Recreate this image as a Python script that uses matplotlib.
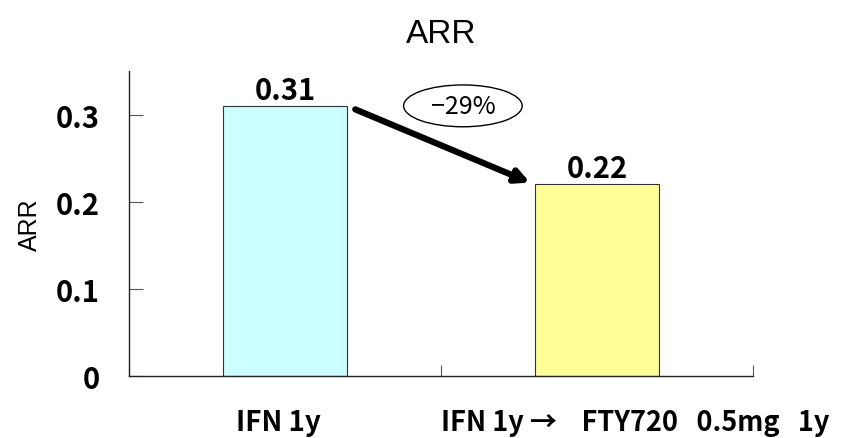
import matplotlib.pyplot as plt
from matplotlib.patches import Ellipse

plt.rcParams['font.family'] = ['Noto Sans CJK JP', 'DejaVu Sans']

categories = ['IFN 1y', 'IFN 1y →    FTY720   0.5mg   1y']
arr_values = [0.31, 0.22]
bar_colors = ['#ccffff', '#ffff99']
change_label = '−29%'

fig = plt.figure(figsize=(8.45, 4.39), dpi=100)
ax = fig.add_axes([0.1527, 0.1412, 0.7385, 0.6948])

x = [0, 1]
ax.bar(x, arr_values, width=0.4, color=bar_colors, edgecolor='#333333', linewidth=0.8)
ax.set_xlim(-0.5, 1.5)
ax.set_ylim(0, 0.35)

for xi, v in zip(x, arr_values):
    ax.text(xi, v + 0.001, f'{v:.2f}', ha='center', va='bottom',
            fontsize=21, fontweight='bold')

# bottom category labels sit well below the axis
ax.set_xticks([-0.5, 0.5, 1.5])
ax.set_xticklabels([])
ax.tick_params(axis='x', direction='in', length=8, color='#555555')
ax.text(-0.02, -0.053, categories[0], ha='center', va='center', fontsize=20,
        fontweight='bold', clip_on=False)
ax.text(1.122, -0.053, categories[1], ha='center', va='center', fontsize=19.5,
        fontweight='bold', clip_on=False)

ax.set_yticks([0, 0.1, 0.2, 0.3])
ax.set_yticklabels(['0', '0.1', '0.2', '0.3'], fontsize=21, fontweight='bold')
ax.tick_params(axis='y', direction='in', length=10, pad=21, color='#555555')

ax.spines['top'].set_visible(False)
ax.spines['right'].set_visible(False)
for s in ('left', 'bottom'):
    ax.spines[s].set_linewidth(1.0)
    ax.spines[s].set_color('#222222')

ax.set_ylabel('ARR', fontsize=18, labelpad=10, family='Liberation Sans')
ax.set_title('ARR', fontsize=24, pad=21, family='Liberation Sans')

# arrow showing the reduction between the two periods
ax.annotate('', xy=(0.785, arr_values[1] + 0.002), xytext=(0.225, arr_values[0] - 0.004),
            arrowprops=dict(arrowstyle='-|>,head_length=0.8,head_width=0.4',
                            lw=4.5, color='black', shrinkA=0, shrinkB=0))
ax.add_patch(Ellipse((0.57, 0.31), 0.38, 0.048, facecolor='white',
                     edgecolor='black', lw=1.0, clip_on=False))
ax.text(0.57, 0.31, change_label, ha='center', va='center', fontsize=18)

fig.savefig('out.png', dpi=100)
